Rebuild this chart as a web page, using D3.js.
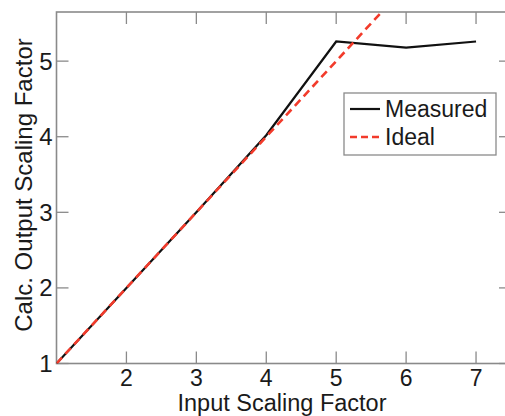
<!DOCTYPE html>
<meta charset="utf-8">
<style>
    body { margin: 0; background: #fff; }
    svg { display: block; font-family: "Liberation Sans", Arial, sans-serif; }
</style>
<svg width="505" height="416"></svg>
<script src="https://d3js.org/d3.v7.min.js"></script>
<script>

    // data
    var inputFactor = [1, 2, 3, 4, 5, 6, 7];
    var measured = [1, 2, 3, 4.02, 5.26, 5.18, 5.26];
    var ideal = [1, 2, 3, 4, 5, 6, 7];
    var xTicks = [2, 3, 4, 5, 6, 7];
    var yTicks = [1, 2, 3, 4, 5];

    var svg = d3.select("svg");
    var pLeft = 56.5, pRight = 511, pTop = 12, pBottom = 363.5;

    var x = d3.scaleLinear().domain([1, 7.5]).range([pLeft, pRight]);
    var y = d3.scaleLinear().domain([1, 5.65]).range([pBottom, pTop]);

    var axisColor = "#8a8a8a";
    var tickLen = 12;

    svg.append("clipPath").attr("id", "clip")
        .append("rect")
        .attr("x", pLeft).attr("y", pTop)
        .attr("width", pRight - pLeft).attr("height", pBottom - pTop);

    // inward ticks on all four sides, like a boxed matlab plot
    var g = svg.append("g");
    g.selectAll(".xb").data(xTicks).enter().append("line")
        .attr("x1", d => x(d)).attr("x2", d => x(d))
        .attr("y1", pBottom).attr("y2", pBottom - tickLen)
        .attr("stroke", axisColor).attr("stroke-width", 1.3);
    g.selectAll(".xt").data(xTicks).enter().append("line")
        .attr("x1", d => x(d)).attr("x2", d => x(d))
        .attr("y1", pTop).attr("y2", pTop + tickLen)
        .attr("stroke", axisColor).attr("stroke-width", 1.3);
    g.selectAll(".yl").data(yTicks).enter().append("line")
        .attr("x1", pLeft).attr("x2", pLeft + tickLen)
        .attr("y1", d => y(d)).attr("y2", d => y(d))
        .attr("stroke", axisColor).attr("stroke-width", 1.3);
    g.selectAll(".yr").data(yTicks).enter().append("line")
        .attr("x1", pRight).attr("x2", pRight - tickLen)
        .attr("y1", d => y(d)).attr("y2", d => y(d))
        .attr("stroke", axisColor).attr("stroke-width", 1.3);

    g.append("rect")
        .attr("x", pLeft).attr("y", pTop)
        .attr("width", pRight - pLeft).attr("height", pBottom - pTop)
        .attr("fill", "none").attr("stroke", axisColor).attr("stroke-width", 1.6);

    // tick labels
    svg.selectAll(".xlab").data(xTicks).enter().append("text")
        .attr("x", d => x(d)).attr("y", 385.5)
        .attr("text-anchor", "middle")
        .attr("font-size", 23).attr("fill", "#1a1a1a")
        .text(d => d);
    svg.selectAll(".ylab").data(yTicks).enter().append("text")
        .attr("x", pLeft - 4).attr("y", d => y(d) + 8.5)
        .attr("text-anchor", "end")
        .attr("font-size", 24).attr("fill", "#1a1a1a")
        .text(d => d);

    // axis titles
    svg.append("text")
        .attr("x", 282).attr("y", 410.5)
        .attr("text-anchor", "middle")
        .attr("font-size", 23.5).attr("fill", "#1a1a1a")
        .text("Input Scaling Factor");
    svg.append("text")
        .attr("transform", "translate(32,185) rotate(-90)")
        .attr("text-anchor", "middle")
        .attr("font-size", 24).attr("fill", "#1a1a1a")
        .text("Calc. Output Scaling Factor");

    var line = d3.line()
        .x((d, i) => x(inputFactor[i]))
        .y(d => y(d));

    var plot = svg.append("g").attr("clip-path", "url(#clip)");
    plot.append("path")
        .attr("d", line(measured))
        .attr("fill", "none").attr("stroke", "#111").attr("stroke-width", 2.2);
    plot.append("path")
        .attr("d", line(ideal))
        .attr("fill", "none").attr("stroke", "#f23b2b").attr("stroke-width", 2.6)
        .attr("stroke-dasharray", "8,5");

    // legend
    var lg = svg.append("g").attr("transform", "translate(344,93)");
    lg.append("rect").attr("width", 152).attr("height", 62)
        .attr("fill", "#fff").attr("stroke", "#8a8a8a").attr("stroke-width", 1.3);
    lg.append("line").attr("x1", 6).attr("x2", 36).attr("y1", 16).attr("y2", 16)
        .attr("stroke", "#111").attr("stroke-width", 2.2);
    lg.append("line").attr("x1", 6).attr("x2", 36).attr("y1", 44).attr("y2", 44)
        .attr("stroke", "#f23b2b").attr("stroke-width", 2.6).attr("stroke-dasharray", "7,4");
    lg.append("text").attr("x", 41).attr("y", 24).attr("font-size", 23).attr("fill", "#1a1a1a")
        .text("Measured");
    lg.append("text").attr("x", 41).attr("y", 52).attr("font-size", 23).attr("fill", "#1a1a1a")
        .text("Ideal");

</script>
